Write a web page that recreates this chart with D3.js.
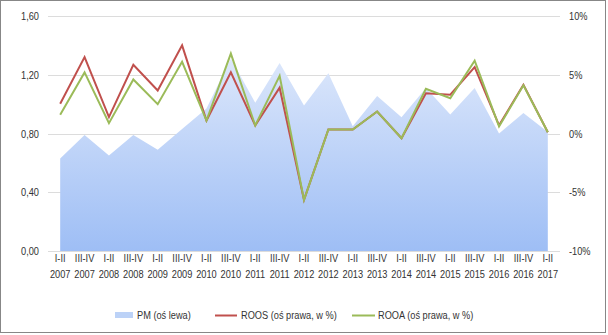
<!DOCTYPE html>
<html><head><meta charset="utf-8">
<script src="https://cdn.jsdelivr.net/npm/d3@7"></script>
<style>
html,body{margin:0;padding:0;background:#fff;}
svg text{font-family:"Liberation Sans","Arial",sans-serif;font-size:11px;fill:#333;}
</style></head>
<body>
<svg id="chart" width="608" height="335"></svg>
<script>
const periods = ["I-II","III-IV","I-II","III-IV","I-II","III-IV","I-II","III-IV","I-II","III-IV","I-II","III-IV","I-II","III-IV","I-II","III-IV","I-II","III-IV","I-II","III-IV","I-II"];
const years = ["2007","2007","2008","2008","2009","2009","2010","2010","2011","2011","2012","2012","2013","2013","2014","2014","2015","2015","2016","2016","2017"];
const pm   = [0.63,0.79,0.65,0.79,0.69,0.83,0.97,1.31,1.01,1.28,0.99,1.21,0.85,1.055,0.91,1.11,0.93,1.11,0.80,0.94,0.81];
const roos = [2.53,6.5,1.4,5.85,3.66,7.5,1.1,5.2,0.68,3.9,-5.65,0.34,0.34,1.87,-0.4,3.43,3.3,5.65,0.7,4.14,0.1];
const rooa = [1.6,5.2,0.88,4.6,2.5,6.1,1.1,6.8,0.68,4.9,-5.65,0.34,0.34,1.87,-0.4,3.8,3.0,6.2,0.6,4.1,0.1];
const leftTicks = [0,0.4,0.8,1.2,1.6];
const rightTicks = [-10,-5,0,5,10];
const legendLabels = ["PM (oś lewa)","ROOS (oś prawa, w %)","ROOA (oś prawa, w %)"];

const SX = 0.84; // horizontal condensing to mimic a narrow font
const svg = d3.select("#chart");
const cats = periods.map((p,i)=>i);
const x = d3.scaleBand().domain(cats).range([48,560]).padding(0);
const cx = i => x(i) + x.bandwidth()/2;
const yL = d3.scaleLinear().domain([0,1.6]).range([251,16]);
const yR = d3.scaleLinear().domain([-10,10]).range([251,16]);

svg.append("rect").attr("x",0.5).attr("y",0.5).attr("width",605).attr("height",332)
  .attr("fill","#fff").attr("stroke","#878787").attr("stroke-width",1);

const defs = svg.append("defs");
const g = defs.append("linearGradient").attr("id","pmGrad").attr("gradientUnits","userSpaceOnUse")
  .attr("x1",0).attr("y1",yL(d3.max(pm))).attr("x2",0).attr("y2",yL(0));
g.append("stop").attr("offset","0%").attr("stop-color","#dce7fb");
g.append("stop").attr("offset","100%").attr("stop-color","#9ebef5");

svg.append("g").selectAll("line").data(leftTicks).join("line")
  .attr("x1",48).attr("x2",560).attr("y1",d=>Math.round(yL(d))+0.5).attr("y2",d=>Math.round(yL(d))+0.5)
  .attr("stroke","#dcdcdc").attr("stroke-width",1);

const area = d3.area().x((d,i)=>cx(i)).y0(yL(0)).y1(d=>yL(d));
svg.append("path").datum(pm).attr("d",area).attr("fill","url(#pmGrad)");

const lineR = d3.line().x((d,i)=>cx(i)).y(d=>yR(d));
svg.append("path").datum(roos).attr("d",lineR).attr("fill","none").attr("stroke","#c0504d").attr("stroke-width",2);
svg.append("path").datum(rooa).attr("d",lineR).attr("fill","none").attr("stroke","#9bbb59").attr("stroke-width",2);

const axL = svg.append("g").attr("transform","translate(48,0)")
  .call(d3.axisLeft(yL).tickValues(leftTicks).tickSize(0).tickPadding(9/SX).tickFormat(d=>d3.format(".2f")(d).replace(".",",")));
axL.select(".domain").remove();
axL.selectAll(".tick text").attr("transform",`scale(${SX},1)`);

const axR = svg.append("g").attr("transform","translate(560,0)")
  .call(d3.axisRight(yR).tickValues(rightTicks).tickSize(0).tickPadding(9/SX).tickFormat(d=>d+"%"));
axR.select(".domain").remove();
axR.selectAll(".tick text").attr("transform",`scale(${SX},1)`);

const axX = svg.append("g").attr("transform","translate(0,251)")
  .call(d3.axisBottom(x).tickSize(0).tickPadding(11).tickFormat(()=>""));
axX.select(".domain").remove();
axX.selectAll(".tick text").each(function(d){
  const t = d3.select(this);
  t.text(null).attr("transform",`scale(${SX},1)`);
  t.append("tspan").attr("x",0).attr("dy",0).text(periods[d]);
  t.append("tspan").attr("x",0).attr("dy","1.45em").text(years[d]);
});

const lg = svg.append("g");
lg.append("rect").attr("x",115).attr("y",312).attr("width",18).attr("height",6).attr("fill","#bcd2f7");
lg.append("text").attr("transform",`translate(137,319) scale(${SX},1)`).text(legendLabels[0]);
lg.append("line").attr("x1",215).attr("x2",237).attr("y1",315.5).attr("y2",315.5).attr("stroke","#c0504d").attr("stroke-width",2);
lg.append("text").attr("transform",`translate(241,319) scale(${SX},1)`).text(legendLabels[1]);
lg.append("line").attr("x1",352).attr("x2",375).attr("y1",315.5).attr("y2",315.5).attr("stroke","#9bbb59").attr("stroke-width",2);
lg.append("text").attr("transform",`translate(378,319) scale(${SX},1)`).text(legendLabels[2]);
</script>
</body></html>
